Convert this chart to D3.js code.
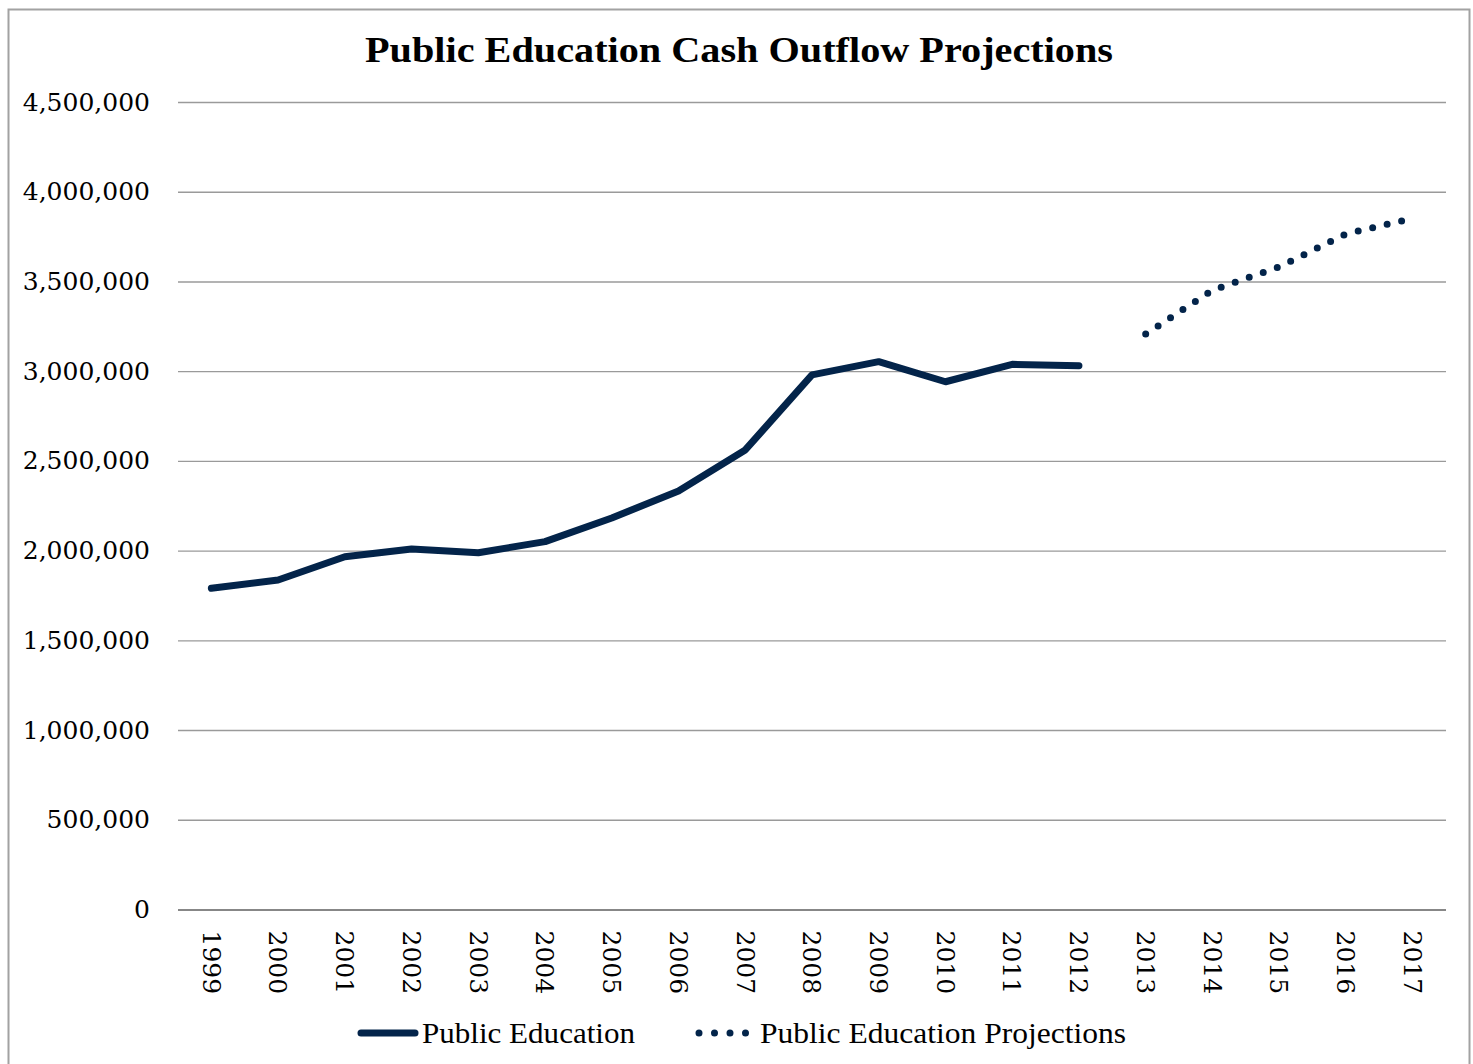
<!DOCTYPE html>
<html>
<head>
<meta charset="utf-8">
<script src="https://cdn.jsdelivr.net/npm/d3@7"></script>
<style>
  html, body { margin: 0; padding: 0; background: #fff; }
  svg { display: block; }
</style>
</head>
<body>
<svg id="chart" width="1473" height="1064"></svg>
<script>
// Cash outflow for public education, actual years and projected years
const years = ["1999","2000","2001","2002","2003","2004","2005","2006","2007","2008",
               "2009","2010","2011","2012","2013","2014","2015","2016","2017"];
const actualYears = ["1999","2000","2001","2002","2003","2004","2005","2006","2007",
                     "2008","2009","2010","2011","2012"];
const actualValues = [1790000, 1836000, 1966000, 2009000, 1988000, 2050000, 2182000,
                      2332000, 2561000, 2979000, 3053000, 2941000, 3038000, 3030000];
const projYears = ["2013","2014","2015","2016","2017"];
const projValues = [3207000, 3451000, 3581000, 3765000, 3851000];
const yTicks = [0, 500000, 1000000, 1500000, 2000000, 2500000, 3000000, 3500000, 4000000, 4500000];
const titleText = "Public Education Cash Outflow Projections";
const seriesNames = ["Public Education", "Public Education Projections"];

const navy = "#03244a";
const svg = d3.select("#chart");

// outer chart frame (bottom edge falls outside the view)
svg.append("rect")
  .attr("x", 8.5).attr("y", 9.5)
  .attr("width", 1461).attr("height", 1080)
  .attr("fill", "#fff")
  .attr("stroke", "#a2a2a2").attr("stroke-width", 2);

const plot = { left: 178, right: 1446, top: 102, bottom: 909.5 };

const x = d3.scaleBand().domain(years).range([plot.left, plot.right]).padding(0);
const xc = d => x(d) + x.bandwidth() / 2;
const y = d3.scaleLinear().domain([0, 4500000]).range([plot.bottom, plot.top]);

// horizontal gridlines + value labels
const yAxis = svg.append("g")
  .attr("transform", `translate(${plot.left},0)`)
  .call(d3.axisLeft(y).tickValues(yTicks).tickFormat(d3.format(","))
        .tickSize(-(plot.right - plot.left)).tickPadding(28));
yAxis.select(".domain").remove();
yAxis.selectAll(".tick line")
  .attr("stroke", d => d === 0 ? "#878787" : "#9a9a9a")
  .attr("stroke-width", d => d === 0 ? 2.2 : 1.4);
yAxis.selectAll(".tick text")
  .attr("font-family", "'DejaVu Serif', serif")
  .attr("font-size", 25)
  .attr("fill", "#000");

// category labels, rotated to read downward
const xAxis = svg.append("g")
  .attr("transform", `translate(0,${plot.bottom})`)
  .call(d3.axisBottom(x).tickSize(0).tickPadding(0));
xAxis.select(".domain").remove();
xAxis.selectAll(".tick text")
  .attr("font-family", "'DejaVu Serif', serif")
  .attr("font-size", 25)
  .attr("fill", "#000")
  .attr("text-anchor", "start")
  .attr("y", 0).attr("dy", "0.35em")
  .attr("transform", "translate(0,21) rotate(90)");

// series lines
const line = d3.line().x(d => xc(d.year)).y(d => y(d.value));
const actual = actualYears.map((yr, i) => ({ year: yr, value: actualValues[i] }));
const proj = projYears.map((yr, i) => ({ year: yr, value: projValues[i] }));

svg.append("path")
  .datum(actual)
  .attr("d", line)
  .attr("fill", "none")
  .attr("stroke", navy)
  .attr("stroke-width", 7)
  .attr("stroke-linecap", "round")
  .attr("stroke-linejoin", "round");

svg.append("path")
  .datum(proj)
  .attr("d", line)
  .attr("fill", "none")
  .attr("stroke", navy)
  .attr("stroke-width", 7)
  .attr("stroke-linecap", "round")
  .attr("stroke-dasharray", "0 14.85");

// title
svg.append("text")
  .attr("x", 365).attr("y", 62)
  .attr("font-family", "'Liberation Serif', serif")
  .attr("font-weight", "bold")
  .attr("font-size", 35)
  .attr("textLength", 748)
  .attr("lengthAdjust", "spacingAndGlyphs")
  .attr("fill", "#000")
  .text(titleText);

// legend
const legY = 1033;
svg.append("line")
  .attr("x1", 361).attr("x2", 415)
  .attr("y1", legY).attr("y2", legY)
  .attr("stroke", navy).attr("stroke-width", 7)
  .attr("stroke-linecap", "round");
svg.append("text")
  .attr("x", 422).attr("y", 1043)
  .attr("font-family", "'Liberation Serif', serif")
  .attr("font-size", 29)
  .attr("textLength", 213)
  .attr("lengthAdjust", "spacingAndGlyphs")
  .attr("fill", "#000")
  .text(seriesNames[0]);

svg.append("line")
  .attr("x1", 699).attr("x2", 746.5)
  .attr("y1", legY).attr("y2", legY)
  .attr("stroke", navy).attr("stroke-width", 7)
  .attr("stroke-linecap", "round")
  .attr("stroke-dasharray", "0 15.5");
svg.append("text")
  .attr("x", 760).attr("y", 1043)
  .attr("font-family", "'Liberation Serif', serif")
  .attr("font-size", 29)
  .attr("textLength", 366)
  .attr("lengthAdjust", "spacingAndGlyphs")
  .attr("fill", "#000")
  .text(seriesNames[1]);
</script>
</body>
</html>
